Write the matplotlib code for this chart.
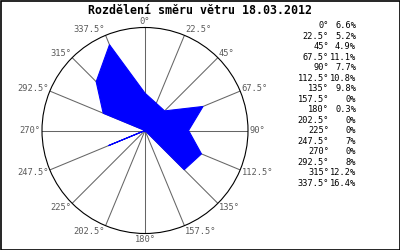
import numpy as np
import matplotlib
matplotlib.use('Agg')
import matplotlib.pyplot as plt
from matplotlib.patches import Rectangle

# wind direction share, 18.03.2012
directions = [0, 22.5, 45, 67.5, 90, 112.5, 135, 157.5,
              180, 202.5, 225, 247.5, 270, 292.5, 315, 337.5]
percent = [6.6, 5.2, 4.9, 11.1, 7.7, 10.8, 9.8, 0,
           0.3, 0, 0, 7, 0, 8, 12.2, 16.4]
pct_labels = ['6.6%', '5.2%', '4.9%', '11.1%', '7.7%', '10.8%', '9.8%', '0%',
              '0.3%', '0%', '0%', '7%', '0%', '8%', '12.2%', '16.4%']
title = 'Rozdělení směru větru 18.03.2012'

W, H = 400, 250
fig = plt.figure(figsize=(W / 100, H / 100), dpi=100)
fig.patch.set_facecolor('white')

# polar area: centre (145, 130.5) px, radius 103 px
cx, cy, R = 145, 130.5, 103
ax = fig.add_axes([(cx - R) / W, (H - cy - R) / H, 2 * R / W, 2 * R / H],
                  projection='polar')
ax.set_theta_zero_location('N')
ax.set_theta_direction(-1)
rmax = 18.2
ax.set_ylim(0, rmax)
ax.grid(False)
ax.set_xticks([])
ax.set_yticks([])
ax.spines['polar'].set_color('black')
ax.spines['polar'].set_linewidth(0.8)
ax.set_facecolor('white')

theta = np.radians(directions)
for t in theta:
    ax.plot([t, t], [0, rmax], color='#666666', lw=0.75, zorder=1)

ax.fill(np.append(theta, theta[0]), np.append(percent, percent[0]),
        facecolor='#0000ff', edgecolor='#0000ff', lw=0.8, zorder=2)

mono = 'DejaVu Sans Mono'
for d, t in zip(directions, theta):
    s, c = np.sin(t), np.cos(t)
    if d in (0, 180):
        ha = 'center'
    elif d < 180:
        ha = 'left'
    else:
        ha = 'right'
    ax.annotate(f'{d:g}°', xy=(t, rmax), xytext=(1.5 * s, 6 * c),
                textcoords='offset pixels', ha=ha, va='center',
                fontsize=6.3, family=mono, color='#5a5a5a',
                annotation_clip=False)

fig.text(0.5, 1 - 10 / H, title, ha='center', va='center',
         fontsize=8.4, family=mono, fontweight='bold')

# right-hand table
y0, dy = 25.7, 10.5
for i, (d, p) in enumerate(zip(directions, pct_labels)):
    y = 1 - (y0 + i * dy) / H
    fig.text(329 / W, y, f'{d:g}°', ha='right', va='center',
             fontsize=6.2, family=mono, color='black')
    fig.text(356 / W, y, p, ha='right', va='center',
             fontsize=6.2, family=mono, color='black')

fig.patches.append(Rectangle((0.5 / W, 0.5 / H), 1 - 1 / W, 1 - 1 / H,
                             transform=fig.transFigure, fill=False,
                             edgecolor='black', lw=1.2))

fig.savefig('out.png', dpi=100, facecolor='white')
